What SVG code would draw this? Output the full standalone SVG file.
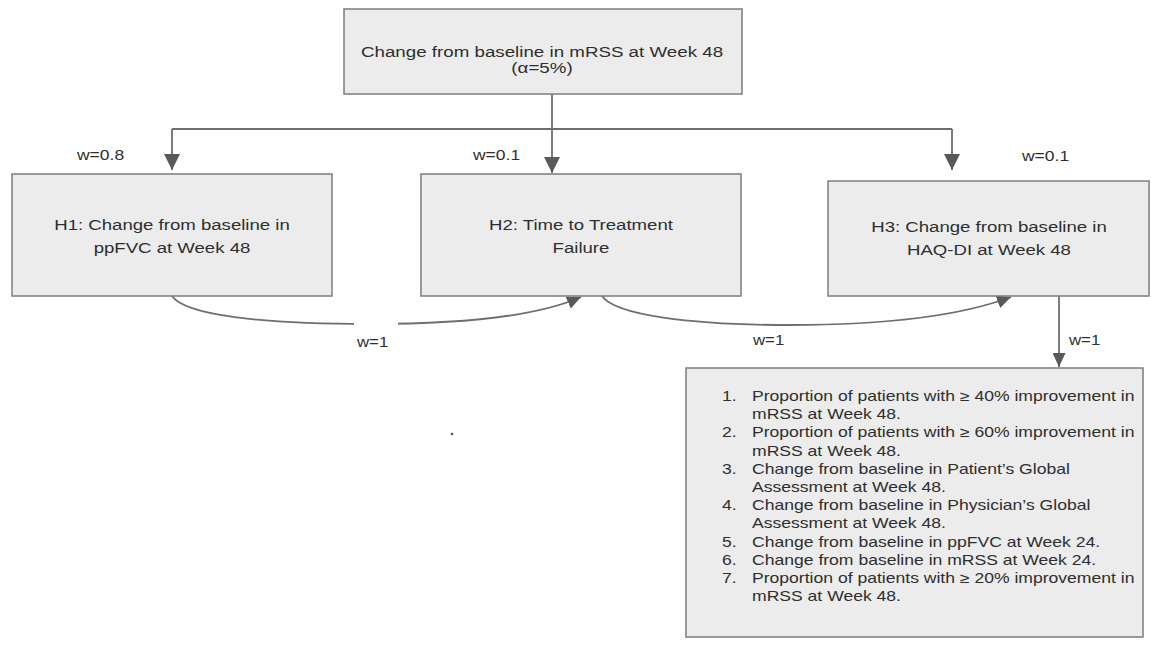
<svg xmlns="http://www.w3.org/2000/svg" width="1151" height="650" viewBox="0 0 1151 650">
<defs>
<style>
.box{fill:#ececec;stroke:#7c7c7c;stroke-width:1.5}
.con{fill:none;stroke:#6e6e6e;stroke-width:1.8}
.t{font-family:"Liberation Sans",Arial,sans-serif;fill:#2e2e2e}
.bt{font-size:15.5px;text-anchor:middle}
.tt{font-size:15px;text-anchor:middle}
.lt{font-size:14px}
.wl{font-size:14px}
</style>
<marker id="ah" markerUnits="userSpaceOnUse" markerWidth="16" markerHeight="16" refX="16" refY="8" orient="auto" viewBox="0 0 16 16"><path d="M0,0 L16,8 L0,16 Z" fill="#595959"/></marker>
<marker id="ahs" markerUnits="userSpaceOnUse" markerWidth="14" markerHeight="13" refX="14" refY="6.5" orient="auto" viewBox="0 0 14 13"><path d="M0,0 L14,6.5 L0,13 Z" fill="#595959"/></marker>
</defs>
<rect width="1151" height="650" fill="#ffffff"/>

<g id="connectors">
<path class="con" d="M552,94 V173" marker-end="url(#ah)"/>
<path class="con" d="M172,129 H952"/>
<path class="con" d="M172,129 V170" marker-end="url(#ah)"/>
<path class="con" d="M952,129 V170" marker-end="url(#ah)"/>
<path class="con" d="M172,296 C185,315 260,324 370,324 C470,324 540,315 581,297" marker-end="url(#ahs)"/>
<path class="con" d="M602,296 C615,315 690,325 790,325 C890,325 960,316 1011,297" marker-end="url(#ahs)"/>
<path class="con" d="M1059,296 V367" marker-end="url(#ahs)"/>
<rect x="354" y="317" width="44" height="32" fill="#ffffff"/>
<text class="t wl" transform="translate(77,160) scale(1.25,1)">w=0.8</text>
<text class="t wl" transform="translate(473,160) scale(1.25,1)">w=0.1</text>
<text class="t wl" transform="translate(1022,161) scale(1.25,1)">w=0.1</text>
<text class="t wl" transform="translate(357,347) scale(1.2,1)">w=1</text>
<text class="t wl" transform="translate(753,345) scale(1.2,1)">w=1</text>
<text class="t wl" transform="translate(1069,345) scale(1.2,1)">w=1</text>
</g>

<g id="top">
<rect class="box" x="344" y="9" width="398" height="85"/>
<text class="t tt" transform="translate(542,57) scale(1.25,1)">Change from baseline in mRSS at Week 48</text>
<text class="t tt" transform="translate(542,73) scale(1.25,1)">(α=5%)</text>
</g>

<g id="h1">
<rect class="box" x="12" y="174" width="320" height="122"/>
<text class="t bt" transform="translate(172,230) scale(1.2,1)">H1: Change from baseline in</text>
<text class="t bt" transform="translate(172,253) scale(1.2,1)">ppFVC at Week 48</text>
</g>

<g id="h2">
<rect class="box" x="421" y="174" width="320" height="122"/>
<text class="t bt" transform="translate(581,230) scale(1.2,1)">H2: Time to Treatment</text>
<text class="t bt" transform="translate(581,253) scale(1.2,1)">Failure</text>
</g>

<g id="h3">
<rect class="box" x="828" y="181" width="321" height="115"/>
<text class="t bt" transform="translate(989,232) scale(1.2,1)">H3: Change from baseline in</text>
<text class="t bt" transform="translate(989,255) scale(1.2,1)">HAQ-DI at Week 48</text>
</g>

<g id="secondary">
<rect class="box" x="686" y="368" width="457" height="269"/>
<g transform="translate(752,0) scale(1.255,1)">
<text class="t lt">
<tspan x="-24" y="401">1.</tspan><tspan x="0" y="401">Proportion of patients with ≥ 40% improvement in</tspan>
<tspan x="0" y="419.2">mRSS at Week 48.</tspan>
<tspan x="-24" y="437.4">2.</tspan><tspan x="0" y="437.4">Proportion of patients with ≥ 60% improvement in</tspan>
<tspan x="0" y="455.6">mRSS at Week 48.</tspan>
<tspan x="-24" y="473.8">3.</tspan><tspan x="0" y="473.8">Change from baseline in Patient’s Global</tspan>
<tspan x="0" y="492">Assessment at Week 48.</tspan>
<tspan x="-24" y="510.2">4.</tspan><tspan x="0" y="510.2">Change from baseline in Physician’s Global</tspan>
<tspan x="0" y="528.4">Assessment at Week 48.</tspan>
<tspan x="-24" y="546.6">5.</tspan><tspan x="0" y="546.6">Change from baseline in ppFVC at Week 24.</tspan>
<tspan x="-24" y="564.8">6.</tspan><tspan x="0" y="564.8">Change from baseline in mRSS at Week 24.</tspan>
<tspan x="-24" y="583">7.</tspan><tspan x="0" y="583">Proportion of patients with ≥ 20% improvement in</tspan>
<tspan x="0" y="601.2">mRSS at Week 48.</tspan>
</text>
</g>
</g>

<circle cx="452" cy="434" r="1.3" fill="#4a5585"/>
</svg>
